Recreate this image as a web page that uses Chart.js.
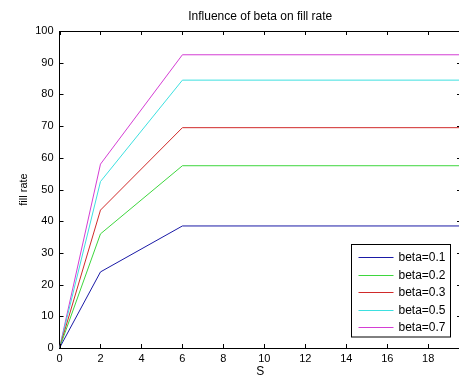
<!DOCTYPE html>
<html><head><meta charset="utf-8">
<script src="https://cdn.jsdelivr.net/npm/chart.js@4.4.1/dist/chart.umd.min.js"></script>
<style>
html,body{margin:0;padding:0;background:#fff;overflow:hidden;width:459px;height:379px;}
#wrap{position:absolute;left:0;top:0;width:464px;height:379px;}
</style></head>
<body>
<div id="wrap"><canvas id="c" width="464" height="379"></canvas></div>
<script>
const S = [0, 2, 6, 20];
const beta01 = [0, 24, 38.5, 38.5];
const beta02 = [0, 36, 57.5, 57.5];
const beta03 = [0, 43.5, 69.5, 69.5];
const beta05 = [0, 52.5, 84.5, 84.5];
const beta07 = [0, 58, 92.5, 92.5];
const labels = ['beta=0.1','beta=0.2','beta=0.3','beta=0.5','beta=0.7'];
const colors = ['#1a1aa6','#3ed63e','#d02a2a','#3de0e0','#d43ed4'];
const xTicks = [0,2,4,6,8,10,12,14,16,18];
const yTicks = [0,10,20,30,40,50,60,70,80,90,100];
const titleText = 'Influence of beta on fill rate';

const series = [beta01, beta02, beta03, beta05, beta07];
const datasets = series.map((vals, i) => ({
  label: labels[i],
  data: S.map((s, j) => ({x: s, y: vals[j]})),
  borderColor: colors[i],
  backgroundColor: colors[i],
  borderWidth: 1,
  pointRadius: 0,
  showLine: true,
  tension: 0
}));

const FONT = 'Liberation Sans, Arial, sans-serif';

const framePlugin = {
  id: 'frame',
  afterDatasetsDraw(chart) {
    const {ctx, chartArea: a, scales: {x, y}} = chart;
    ctx.save();
    // title centered over the axes
    ctx.fillStyle = '#000';
    ctx.font = '12px ' + FONT;
    ctx.textAlign = 'center';
    ctx.textBaseline = 'middle';
    ctx.fillText(titleText, (a.left + a.right) / 2, 17);

    ctx.strokeStyle = '#000';
    ctx.lineWidth = 1;
    ctx.beginPath();
    ctx.moveTo(a.left, a.top + 0.5); ctx.lineTo(a.right, a.top + 0.5);
    ctx.moveTo(a.right - 0.5, a.top); ctx.lineTo(a.right - 0.5, a.bottom);
    const L = 4;
    xTicks.forEach(v => {
      const px = Math.round(x.getPixelForValue(v)) + 0.5;
      ctx.moveTo(px, a.bottom); ctx.lineTo(px, a.bottom - L);
      ctx.moveTo(px, a.top); ctx.lineTo(px, a.top + L);
    });
    yTicks.forEach(v => {
      const py = Math.round(y.getPixelForValue(v)) + 0.5;
      ctx.moveTo(a.left, py); ctx.lineTo(a.left + L, py);
      ctx.moveTo(a.right, py); ctx.lineTo(a.right - L, py);
    });
    ctx.stroke();

    // legend box (lower right inside axes)
    const w = 99, rowH = 17.5, n = chart.data.datasets.length;
    const h = n * rowH + 5;
    const right = 450.5, bottom = a.bottom - 11;
    const left = right - w, top = bottom - h;
    ctx.fillStyle = '#fff';
    ctx.fillRect(left, top, w, h);
    ctx.strokeStyle = '#000';
    ctx.strokeRect(left, top, w, h);
    ctx.font = '12px ' + FONT;
    ctx.textBaseline = 'middle';
    ctx.textAlign = 'left';
    chart.data.datasets.forEach((ds, i) => {
      const yy = Math.round(top + 12.5 + i * rowH) + 0.5;
      ctx.strokeStyle = ds.borderColor;
      ctx.beginPath();
      ctx.moveTo(left + 7, yy); ctx.lineTo(left + 42, yy);
      ctx.stroke();
      ctx.fillStyle = '#000';
      ctx.fillText(ds.label, left + 47, yy);
    });
    ctx.restore();
  }
};

new Chart(document.getElementById('c'), {
  type: 'scatter',
  data: { datasets },
  options: {
    responsive: false,
    animation: false,
    layout: { padding: { left: 0, right: 3, top: 31, bottom: 0 } },
    plugins: {
      legend: { display: false },
      tooltip: { enabled: false },
      title: { display: false }
    },
    scales: {
      x: {
        type: 'linear',
        min: 0, max: 19.6,
        afterBuildTicks(scale) { scale.ticks = xTicks.map(v => ({value: v})); },
        afterFit(scale) { scale.height = 31; },
        grid: { display: false, drawTicks: false },
        border: { display: true, color: '#000', width: 1 },
        ticks: { color: '#000', font: { family: FONT, size: 11 }, padding: 4, maxRotation: 0, autoSkip: false },
        title: { display: true, text: 'S', color: '#000', font: { family: FONT, size: 12 }, padding: { top: 0, bottom: 0 } }
      },
      y: {
        type: 'linear',
        min: 0, max: 100,
        afterBuildTicks(scale) { scale.ticks = yTicks.map(v => ({value: v})); },
        afterFit(scale) { scale.width = 59.5; },
        grid: { display: false, drawTicks: false },
        border: { display: true, color: '#000', width: 1 },
        ticks: { color: '#000', font: { family: FONT, size: 11 }, padding: 6, autoSkip: false },
        title: { display: true, text: 'fill rate', color: '#000', font: { family: FONT, size: 11 }, padding: { top: 17, bottom: 0 } }
      }
    }
  },
  plugins: [framePlugin]
});
</script>
</body></html>
